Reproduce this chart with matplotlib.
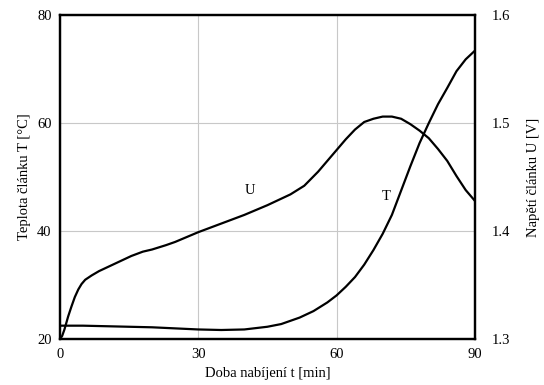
import numpy as np
import matplotlib
matplotlib.use("Agg")
import matplotlib.pyplot as plt

plt.rcParams['font.family'] = ['Liberation Serif', 'DejaVu Serif']

# charging time [min] and cell temperature [deg C]
t_T = [0, 5, 10, 15, 20, 25, 30, 35, 40, 45, 48, 52, 55, 58, 60, 62, 64, 66, 68, 70,
       72, 74, 76, 78, 80, 82, 84, 86, 88, 90]
T = [22.5, 22.5, 22.4, 22.3, 22.2, 22.0, 21.8, 21.7, 21.8, 22.3, 22.8, 24.0, 25.2,
     26.8, 28.1, 29.7, 31.5, 33.8, 36.5, 39.5, 43.0, 47.5, 52.0, 56.3, 60.0, 63.5,
     66.5, 69.6, 71.8, 73.4]

# charging time [min] and cell voltage [V]
t_U = [0, 0.5, 1, 1.8, 2.5, 3.25, 4, 4.7, 5.5, 6.9, 8.5, 10.5, 13, 15.5, 18, 20, 23,
       25, 30, 35, 40, 45, 50, 53, 56, 58, 60, 62, 64, 66, 68, 70, 72, 74, 76, 78,
       80, 82, 84, 86, 88, 90]
U = [1.300, 1.303, 1.309, 1.321, 1.330, 1.339, 1.346, 1.351, 1.355, 1.359, 1.363,
     1.367, 1.372, 1.377, 1.381, 1.383, 1.387, 1.390, 1.399, 1.407, 1.415, 1.424,
     1.434, 1.442, 1.455, 1.465, 1.475, 1.485, 1.494, 1.501, 1.504, 1.506, 1.506,
     1.504, 1.499, 1.493, 1.486, 1.476, 1.465, 1.451, 1.438, 1.428]

x_ticks = [0, 30, 60, 90]
T_ticks = [20, 40, 60, 80]
U_ticks = [1.3, 1.4, 1.5, 1.6]

fig = plt.figure(figsize=(5.44, 3.85), dpi=100)
ax = fig.add_axes([0.110, 0.119, 0.763, 0.842])
ax2 = ax.twinx()

ax.plot(t_T, T, color='black', lw=1.6, solid_joinstyle='round')
ax2.plot(t_U, U, color='black', lw=1.6, solid_joinstyle='round')

ax.set_xlim(0, 90)
ax.set_ylim(20, 80)
ax2.set_ylim(1.3, 1.6)
ax.set_xticks(x_ticks)
ax.set_yticks(T_ticks)
ax2.set_yticks(U_ticks)
ax2.set_yticklabels([str(v) for v in U_ticks])

ax.grid(True, color='#c8c8c8', lw=0.8)
ax.tick_params(length=0, labelsize=10.5, pad=6)
ax2.tick_params(length=0, labelsize=10.5, pad=12)

for a in (ax, ax2):
    for s in a.spines.values():
        s.set_linewidth(1.6)

ax.set_xlabel('Doba nabíjení t [min]', fontsize=10.5, labelpad=5)
ax.set_ylabel('Teplota článku T [°C]', fontsize=10.5, labelpad=4)
ax2.set_ylabel('Napětí článku U [V]', fontsize=10.5, labelpad=12)

ax.text(41.2, 47.6, 'U', fontsize=10.5, ha='center', va='center')
ax.text(70.7, 46.5, 'T', fontsize=10.5, ha='center', va='center')

fig.savefig('out.png', dpi=100)
